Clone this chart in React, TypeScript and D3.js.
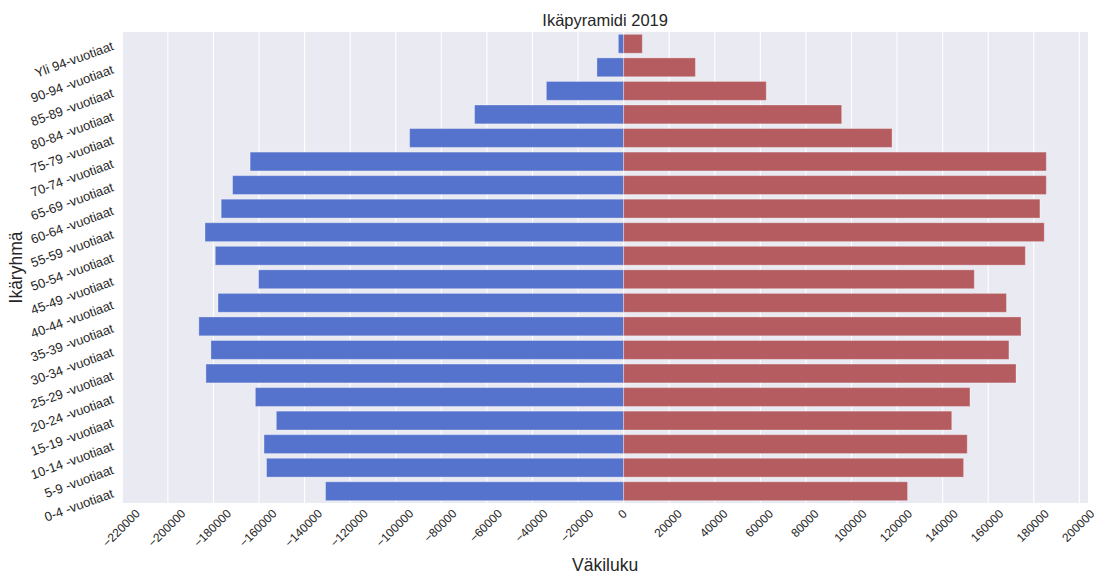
import React from 'react';
import * as d3 from 'd3';

// Age groups, top row first
const ageGroups = [
  'Yli 94-vuotiaat', '90-94 -vuotiaat', '85-89 -vuotiaat', '80-84 -vuotiaat',
  '75-79 -vuotiaat', '70-74 -vuotiaat', '65-69 -vuotiaat', '60-64 -vuotiaat',
  '55-59 -vuotiaat', '50-54 -vuotiaat', '45-49 -vuotiaat', '40-44 -vuotiaat',
  '35-39 -vuotiaat', '30-34 -vuotiaat', '25-29 -vuotiaat', '20-24 -vuotiaat',
  '15-19 -vuotiaat', '10-14 -vuotiaat', '5-9 -vuotiaat', '0-4 -vuotiaat',
];

// left side (drawn as negative)
const leftValues = [
  2300, 11700, 33900, 65400, 93900, 163900, 171600, 176600, 183700, 179200,
  160200, 178000, 186400, 181100, 183300, 161600, 152400, 157800, 156700, 130800,
];

// right side
const rightValues = [
  8200, 31500, 62600, 95700, 117800, 185500, 185500, 182700, 184600, 176300,
  153900, 168000, 174400, 169100, 172200, 152000, 144000, 150800, 149200, 124600,
];

const xTicks = d3.range(-220000, 200001, 20000);

const W = 1096;
const H = 574;
const FONT = '"Liberation Sans", Arial, sans-serif';

const App: React.FC = () => {
  const svgRef = React.useRef<SVGSVGElement>(null);

  React.useEffect(() => {
    document.body.style.margin = '0';
    if (!svgRef.current) return;

    const margin = { top: 32, right: 8, bottom: 71, left: 122.3 };
    const width = W - margin.left - margin.right;
    const height = H - margin.top - margin.bottom;

    const svg = d3.select(svgRef.current);
    svg.selectAll('*').remove();

    const g = svg.append('g')
      .attr('transform', `translate(${margin.left},${margin.top})`);

    const x = d3.scaleLinear()
      .domain([-220000, 203800])
      .range([0, width]);

    const y = d3.scaleBand()
      .domain(ageGroups)
      .range([0, height])
      .paddingInner(0.2)
      .paddingOuter(0.1);

    // background
    g.append('rect')
      .attr('width', width)
      .attr('height', height)
      .attr('fill', '#eaeaf2');

    // vertical grid
    g.selectAll('line.grid')
      .data(xTicks)
      .enter()
      .append('line')
      .attr('x1', d => x(d))
      .attr('x2', d => x(d))
      .attr('y1', 0)
      .attr('y2', height)
      .attr('stroke', '#ffffff')
      .attr('stroke-width', 1.1);

    // left bars
    g.selectAll('rect.left')
      .data(ageGroups)
      .enter()
      .append('rect')
      .attr('x', (_, i) => x(-leftValues[i]))
      .attr('y', d => y(d)!)
      .attr('width', (_, i) => x(0) - x(-leftValues[i]))
      .attr('height', y.bandwidth())
      .attr('fill', '#5573cd')
      .attr('stroke', 'rgba(255,255,255,0.3)')
      .attr('stroke-width', 1);

    // right bars
    g.selectAll('rect.right')
      .data(ageGroups)
      .enter()
      .append('rect')
      .attr('x', x(0))
      .attr('y', d => y(d)!)
      .attr('width', (_, i) => x(rightValues[i]) - x(0))
      .attr('height', y.bandwidth())
      .attr('fill', '#b45c60')
      .attr('stroke', 'rgba(255,255,255,0.3)')
      .attr('stroke-width', 1);

    // X tick labels, rotated 45
    const fmt = (d: number) => (d < 0 ? '\u2212' + Math.abs(d) : String(d));
    xTicks.forEach(t => {
      const label = fmt(t);
      const tw = label.length * 6.7;
      const cy = height + 4 + ((tw + 13) * 0.707) / 2;
      g.append('text')
        .attr('transform', `translate(${x(t) - 1},${cy}) rotate(-45)`)
        .attr('text-anchor', 'middle')
        .attr('dominant-baseline', 'central')
        .style('font-family', FONT)
        .style('font-size', '12px')
        .style('fill', '#262626')
        .text(label);
    });

    // Y tick labels, rotated 20
    ageGroups.forEach(a => {
      const cy = y(a)! + y.bandwidth() / 2 + 1.5;
      g.append('text')
        .attr('transform', `translate(-9.5,${cy}) rotate(-20)`)
        .attr('text-anchor', 'end')
        .attr('dominant-baseline', 'central')
        .style('font-family', FONT)
        .style('font-size', '13px')
        .style('fill', '#262626')
        .text(a);
    });

    // Title
    g.append('text')
      .attr('x', width / 2)
      .attr('y', -6)
      .attr('text-anchor', 'middle')
      .style('font-family', FONT)
      .style('font-size', '16.5px')
      .style('fill', '#262626')
      .text('Ikäpyramidi 2019');

    // Axis labels
    g.append('text')
      .attr('x', width / 2)
      .attr('y', H - margin.top - 3)
      .attr('text-anchor', 'middle')
      .style('font-family', FONT)
      .style('font-size', '17.5px')
      .style('fill', '#262626')
      .text('Väkiluku');

    g.append('text')
      .attr('transform', `translate(${-margin.left + 22},${height / 2}) rotate(-90)`)
      .attr('text-anchor', 'middle')
      .style('font-family', FONT)
      .style('font-size', '17.5px')
      .style('fill', '#262626')
      .text('Ikäryhmä');
  }, []);

  return (
    <svg ref={svgRef} width={W} height={H} viewBox={`0 0 ${W} ${H}`} style={{ display: 'block', background: '#fff' }} />
  );
};

export default App;
